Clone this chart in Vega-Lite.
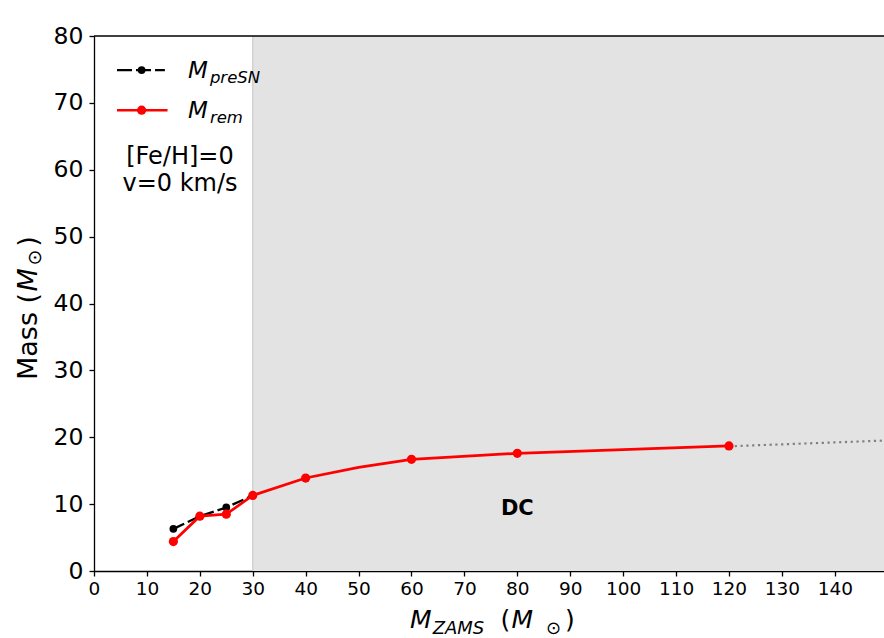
{
  "$schema": "https://vega.github.io/schema/vega-lite/v6.json",
  "width": 790,
  "height": 535,
  "autosize": {"type": "none"},
  "padding": {"left": 94, "top": 36, "right": 0, "bottom": 67},
  "background": "white",
  "config": {
    "view": {"stroke": null},
    "font": "DejaVu Sans",
    "axis": {
      "domainColor": "black",
      "domainWidth": 1.3,
      "tickColor": "black",
      "tickWidth": 1.3,
      "tickSize": 5,
      "labelColor": "black",
      "labelFont": "DejaVu Sans",
      "labelFlush": false,
      "grid": false
    },
    "axisX": {"labelFontSize": 18.5, "labelPadding": 3},
    "axisY": {"labelFontSize": 23.5, "labelPadding": 6}
  },
  "data": {"values": [{}]},
  "datasets": {
    "models": [
      {"mzams": 15, "series": "preSN", "mass": 6.3},
      {"mzams": 20, "series": "preSN", "mass": 8.2},
      {"mzams": 25, "series": "preSN", "mass": 9.5},
      {"mzams": 30, "series": "preSN", "mass": 11.3},
      {"mzams": 15, "series": "rem", "mass": 4.4},
      {"mzams": 20, "series": "rem", "mass": 8.2},
      {"mzams": 25, "series": "rem", "mass": 8.5},
      {"mzams": 30, "series": "rem", "mass": 11.3},
      {"mzams": 40, "series": "rem", "mass": 13.9},
      {"mzams": 50, "series": "rem", "mass": 15.5},
      {"mzams": 60, "series": "rem", "mass": 16.7},
      {"mzams": 80, "series": "rem", "mass": 17.6},
      {"mzams": 120, "series": "rem", "mass": 18.7}
    ],
    "extrapolation": [
      {"mzams": 120, "mass": 18.65},
      {"mzams": 149.3, "mass": 19.5}
    ]
  },
  "layer": [
    {
      "mark": {"type": "rect", "color": "#e3e3e3"},
      "encoding": {
        "x": {"datum": 30, "type": "quantitative", "scale": {"domain": [0, 149.3], "nice": false}, "axis": {"title": null, "values": [0, 10, 20, 30, 40, 50, 60, 70, 80, 90, 100, 110, 120, 130, 140]}},
        "x2": {"datum": 149.3},
        "y": {"datum": 0, "type": "quantitative", "scale": {"domain": [0, 80], "nice": false}, "axis": {"title": null, "values": [0, 10, 20, 30, 40, 50, 60, 70, 80]}},
        "y2": {"datum": 80}
      }
    },
    {
      "mark": {"type": "rule", "color": "#d2d2d2", "strokeWidth": 1.5},
      "encoding": {
        "x": {"datum": 30, "type": "quantitative", "scale": {"domain": [0, 149.3], "nice": false}}
      }
    },
    {
      "mark": {"type": "rule", "color": "black", "strokeWidth": 1.3},
      "encoding": {
        "y": {"datum": 80, "type": "quantitative", "scale": {"domain": [0, 80], "nice": false}}
      }
    },
    {
      "data": {"name": "extrapolation"},
      "mark": {"type": "line", "color": "#808080", "strokeWidth": 2.2, "strokeDash": [2.2, 3.6]},
      "encoding": {
        "x": {"field": "mzams", "type": "quantitative", "scale": {"domain": [0, 149.3], "nice": false}, "axis": {"title": null}},
        "y": {"field": "mass", "type": "quantitative", "scale": {"domain": [0, 80], "nice": false}, "axis": {"title": null}}
      }
    },
    {
      "data": {"name": "models"},
      "transform": [{"filter": "datum.series === 'preSN'"}],
      "layer": [
        {"mark": {"type": "line", "color": "black", "strokeWidth": 2.3, "strokeDash": [12, 4]}},
        {"mark": {"type": "point", "filled": true, "color": "black", "size": 60, "opacity": 1}}
      ],
      "encoding": {
        "x": {"field": "mzams", "type": "quantitative", "scale": {"domain": [0, 149.3], "nice": false}, "axis": {"title": null}},
        "y": {"field": "mass", "type": "quantitative", "scale": {"domain": [0, 80], "nice": false}, "axis": {"title": null}}
      }
    },
    {
      "data": {"name": "models"},
      "transform": [{"filter": "datum.series === 'rem'"}],
      "layer": [
        {"mark": {"type": "line", "color": "#ff0000", "strokeWidth": 2.7}},
        {"transform": [{"filter": "datum.mzams !== 50"}], "mark": {"type": "point", "filled": true, "color": "#ff0000", "size": 85, "opacity": 1}}
      ],
      "encoding": {
        "x": {"field": "mzams", "type": "quantitative", "scale": {"domain": [0, 149.3], "nice": false}, "axis": {"title": null}},
        "y": {"field": "mass", "type": "quantitative", "scale": {"domain": [0, 80], "nice": false}, "axis": {"title": null}}
      }
    },
    {
      "mark": {"type": "text", "text": "DC", "fontWeight": "bold", "fontSize": 21, "color": "black", "align": "center", "baseline": "middle"},
      "encoding": {
        "x": {"datum": 80, "type": "quantitative", "scale": {"domain": [0, 149.3], "nice": false}},
        "y": {"datum": 9.3, "type": "quantitative", "scale": {"domain": [0, 80], "nice": false}}
      }
    },
    {
      "mark": {"type": "rule", "color": "black", "strokeWidth": 2.3, "strokeDash": [15, 4]},
      "encoding": {
        "x": {"datum": 4.35, "type": "quantitative", "scale": {"domain": [0, 149.3], "nice": false}},
        "x2": {"datum": 13.4},
        "y": {"datum": 74.9, "type": "quantitative", "scale": {"domain": [0, 80], "nice": false}}
      }
    },
    {
      "mark": {"type": "point", "filled": true, "color": "black", "size": 60, "opacity": 1},
      "encoding": {
        "x": {"datum": 9.0, "type": "quantitative", "scale": {"domain": [0, 149.3], "nice": false}},
        "y": {"datum": 74.9, "type": "quantitative", "scale": {"domain": [0, 80], "nice": false}}
      }
    },
    {
      "mark": {"type": "rule", "color": "#ff0000", "strokeWidth": 2.7},
      "encoding": {
        "x": {"datum": 4.35, "type": "quantitative", "scale": {"domain": [0, 149.3], "nice": false}},
        "x2": {"datum": 13.9},
        "y": {"datum": 68.9, "type": "quantitative", "scale": {"domain": [0, 80], "nice": false}}
      }
    },
    {
      "mark": {"type": "point", "filled": true, "color": "#ff0000", "size": 85, "opacity": 1},
      "encoding": {
        "x": {"datum": 9.0, "type": "quantitative", "scale": {"domain": [0, 149.3], "nice": false}},
        "y": {"datum": 68.9, "type": "quantitative", "scale": {"domain": [0, 80], "nice": false}}
      }
    },
    {
      "mark": {"type": "text", "text": "M", "fontStyle": "italic", "fontSize": 23, "color": "black", "align": "left", "baseline": "alphabetic"},
      "encoding": {
        "x": {"datum": 17.76, "type": "quantitative", "scale": {"domain": [0, 149.3], "nice": false}},
        "y": {"datum": 73.72, "type": "quantitative", "scale": {"domain": [0, 80], "nice": false}}
      }
    },
    {
      "mark": {"type": "text", "text": "preSN", "fontStyle": "italic", "fontSize": 16.5, "color": "black", "align": "left", "baseline": "alphabetic"},
      "encoding": {
        "x": {"datum": 21.9, "type": "quantitative", "scale": {"domain": [0, 149.3], "nice": false}},
        "y": {"datum": 73.0, "type": "quantitative", "scale": {"domain": [0, 80], "nice": false}}
      }
    },
    {
      "mark": {"type": "text", "text": "M", "fontStyle": "italic", "fontSize": 23, "color": "black", "align": "left", "baseline": "alphabetic"},
      "encoding": {
        "x": {"datum": 17.76, "type": "quantitative", "scale": {"domain": [0, 149.3], "nice": false}},
        "y": {"datum": 67.74, "type": "quantitative", "scale": {"domain": [0, 80], "nice": false}}
      }
    },
    {
      "mark": {"type": "text", "text": "rem", "fontStyle": "italic", "fontSize": 16.5, "color": "black", "align": "left", "baseline": "alphabetic"},
      "encoding": {
        "x": {"datum": 21.9, "type": "quantitative", "scale": {"domain": [0, 149.3], "nice": false}},
        "y": {"datum": 67.04, "type": "quantitative", "scale": {"domain": [0, 80], "nice": false}}
      }
    },
    {
      "mark": {"type": "text", "text": ["[Fe/H]=0", "v=0 km/s"], "fontSize": 24, "lineHeight": 27, "color": "black", "align": "center", "baseline": "alphabetic"},
      "encoding": {
        "x": {"datum": 16.25, "type": "quantitative", "scale": {"domain": [0, 149.3], "nice": false}},
        "y": {"datum": 60.8, "type": "quantitative", "scale": {"domain": [0, 80], "nice": false}}
      }
    },
    {
      "mark": {"type": "text", "text": "M", "fontStyle": "italic", "fontSize": 25, "color": "black", "align": "left", "baseline": "alphabetic"},
      "encoding": {
        "x": {"datum": 59.7, "type": "quantitative", "scale": {"domain": [0, 149.3], "nice": false}},
        "y": {"datum": -8.52, "type": "quantitative", "scale": {"domain": [0, 80], "nice": false}}
      }
    },
    {
      "mark": {"type": "text", "text": "ZAMS", "fontStyle": "italic", "fontSize": 18, "color": "black", "align": "left", "baseline": "alphabetic"},
      "encoding": {
        "x": {"datum": 64.0, "type": "quantitative", "scale": {"domain": [0, 149.3], "nice": false}},
        "y": {"datum": -9.42, "type": "quantitative", "scale": {"domain": [0, 80], "nice": false}}
      }
    },
    {
      "mark": {"type": "text", "text": "(", "fontSize": 25, "color": "black", "align": "left", "baseline": "alphabetic"},
      "encoding": {
        "x": {"datum": 76.8, "type": "quantitative", "scale": {"domain": [0, 149.3], "nice": false}},
        "y": {"datum": -8.52, "type": "quantitative", "scale": {"domain": [0, 80], "nice": false}}
      }
    },
    {
      "mark": {"type": "text", "text": "M", "fontStyle": "italic", "fontSize": 25, "color": "black", "align": "left", "baseline": "alphabetic"},
      "encoding": {
        "x": {"datum": 78.9, "type": "quantitative", "scale": {"domain": [0, 149.3], "nice": false}},
        "y": {"datum": -8.52, "type": "quantitative", "scale": {"domain": [0, 80], "nice": false}}
      }
    },
    {
      "mark": {"type": "text", "text": "⊙", "fontSize": 18, "color": "black", "align": "left", "baseline": "alphabetic"},
      "encoding": {
        "x": {"datum": 85.4, "type": "quantitative", "scale": {"domain": [0, 149.3], "nice": false}},
        "y": {"datum": -9.42, "type": "quantitative", "scale": {"domain": [0, 80], "nice": false}}
      }
    },
    {
      "mark": {"type": "text", "text": ")", "fontSize": 25, "color": "black", "align": "left", "baseline": "alphabetic"},
      "encoding": {
        "x": {"datum": 89.0, "type": "quantitative", "scale": {"domain": [0, 149.3], "nice": false}},
        "y": {"datum": -8.52, "type": "quantitative", "scale": {"domain": [0, 80], "nice": false}}
      }
    },
    {
      "mark": {"type": "text", "text": "Mass (", "angle": 270, "fontSize": 27, "color": "black", "align": "left", "baseline": "alphabetic"},
      "encoding": {
        "x": {"datum": -10.77, "type": "quantitative", "scale": {"domain": [0, 149.3], "nice": false}},
        "y": {"datum": 28.56, "type": "quantitative", "scale": {"domain": [0, 80], "nice": false}}
      }
    },
    {
      "mark": {"type": "text", "text": "M", "angle": 270, "fontStyle": "italic", "fontSize": 27, "color": "black", "align": "left", "baseline": "alphabetic"},
      "encoding": {
        "x": {"datum": -10.77, "type": "quantitative", "scale": {"domain": [0, 149.3], "nice": false}},
        "y": {"datum": 41.8, "type": "quantitative", "scale": {"domain": [0, 80], "nice": false}}
      }
    },
    {
      "mark": {"type": "text", "text": "⊙", "angle": 270, "fontSize": 19, "color": "black", "align": "left", "baseline": "alphabetic"},
      "encoding": {
        "x": {"datum": -10.1, "type": "quantitative", "scale": {"domain": [0, 149.3], "nice": false}},
        "y": {"datum": 45.7, "type": "quantitative", "scale": {"domain": [0, 80], "nice": false}}
      }
    },
    {
      "mark": {"type": "text", "text": ")", "angle": 270, "fontSize": 27, "color": "black", "align": "left", "baseline": "alphabetic"},
      "encoding": {
        "x": {"datum": -10.77, "type": "quantitative", "scale": {"domain": [0, 149.3], "nice": false}},
        "y": {"datum": 48.5, "type": "quantitative", "scale": {"domain": [0, 80], "nice": false}}
      }
    }
  ]
}
